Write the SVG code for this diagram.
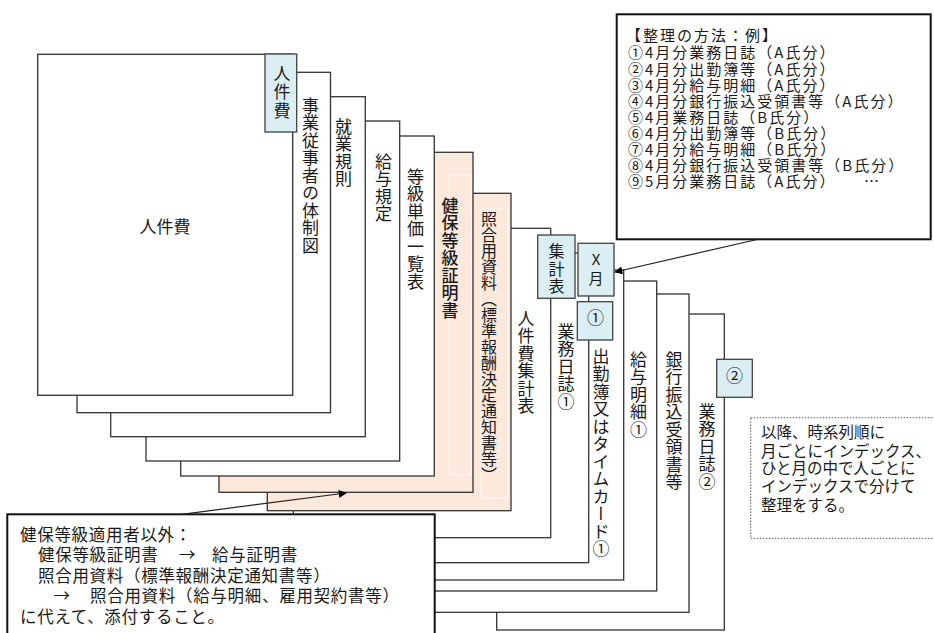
<svg xmlns="http://www.w3.org/2000/svg" width="934" height="633" viewBox="0 0 934 633">
<style>
.pg{fill:#ffffff;stroke:#333333;stroke-width:1.3}
.pk{fill:#fce9dc;stroke:#333333;stroke-width:1.3}
.tab{fill:#daeef3;stroke:#404040;stroke-width:1.3}
.t{font-family:"Noto Sans CJK JP","Noto Sans",sans-serif;fill:#1a1a1a}
.v{writing-mode:vertical-rl;font-size:17px;letter-spacing:0.5px}
.h16{font-size:15px;letter-spacing:2px}
.b16{font-size:16.5px;letter-spacing:0.7px}
.r16{font-size:15.5px}
.note{fill:#ffffff;stroke:#111111;stroke-width:2}
.con{stroke:#222222;stroke-width:1.2;fill:none}
.inner{fill:none;stroke:#ffffff;stroke-width:1;opacity:0.8}
</style>
<defs>
<marker id="ah" viewBox="0 0 10 10" refX="9" refY="5" markerWidth="9" markerHeight="8" markerUnits="userSpaceOnUse" orient="auto">
<path d="M0,0 L10,5 L0,10 z" fill="#000000"/>
</marker>
</defs>
<rect x="0" y="0" width="934" height="633" fill="#ffffff"/>

<g id="page13"><rect class="pg" x="496.7" y="314" width="227.6" height="316"/>
<text class="t v" x="707" y="403">業務日誌②</text></g>
<g id="page12"><rect class="pg" x="430" y="294" width="259" height="318.3"/>
<text class="t v" x="674" y="351">銀行振込受領書等</text></g>
<g id="page11"><rect class="pg" x="400" y="281" width="256.7" height="310"/>
<text class="t v" x="638.5" y="351">給与明細①</text></g>
<g id="page10"><rect class="pg" x="368" y="270" width="255.7" height="310"/>
<text class="t v" x="601" y="348">出勤簿又はタイムカード①</text></g>
<g id="page9"><rect class="pg" x="333" y="253" width="255.7" height="309.7"/>
<text class="t v" x="566" y="323">業務日誌①</text></g>
<g id="page8"><rect class="pg" x="293.3" y="228.3" width="257.4" height="309.4"/>
<text class="t v" x="526" y="310">人件費集計表</text></g>
<g id="page7"><rect class="pk" x="267.3" y="193.3" width="243.7" height="317.4"/>
<rect class="inner" x="481" y="208" width="27" height="290"/>
<text class="t" style="writing-mode:vertical-rl;font-size:16px" x="489" y="211">照合用資料（標準報酬決定通知書等）</text></g>
<g id="page6"><rect class="pk" x="219" y="152.3" width="254" height="340"/>
<rect class="inner" x="449.3" y="175" width="22" height="300"/>
<text class="t v" x="450" y="197" style="font-weight:500">健保等級証明書</text></g>
<g id="page5"><rect class="pg" x="180.7" y="136" width="253.6" height="340"/>
<text class="t v" x="415.5" y="168">等級単価一覧表</text></g>
<g id="page4"><rect class="pg" x="146" y="121" width="253.7" height="340"/>
<text class="t v" x="383.5" y="153">給与規定</text></g>
<g id="page3"><rect class="pg" x="110.7" y="96.7" width="254.6" height="340"/>
<text class="t v" x="343.5" y="118">就業規則</text></g>
<g id="page2"><rect class="pg" x="77" y="72.3" width="253.5" height="340.4"/>
<text class="t v" x="310.5" y="97">事業従事者の体制図</text></g>
<g id="page1"><rect class="pg" x="37.7" y="54.3" width="255" height="341" style="stroke:#444444;stroke-width:1.5"/>
<text class="t" x="165" y="233" text-anchor="middle" style="font-size:17px">人件費</text></g>

<g id="tab-jinkenhi"><rect class="tab" x="265" y="54" width="31.7" height="78"/>
<text class="t" style="writing-mode:vertical-rl;font-size:17px;letter-spacing:1.3px" x="282" y="65">人件費</text></g>
<g id="tab-shukeihyo"><rect class="tab" x="537.7" y="235" width="37.3" height="63.3"/>
<text class="t" style="writing-mode:vertical-rl;font-size:16px;letter-spacing:1.5px" x="556.5" y="243">集計表</text></g>
<g id="tab-month"><rect class="tab" x="578" y="243.3" width="36" height="52.7"/>
<text class="t" text-anchor="middle" style="font-size:15px"><tspan x="596" y="265">X</tspan><tspan x="596" y="284">月</tspan></text></g>
<g id="tab-1"><rect class="tab" x="577.3" y="301.7" width="35.4" height="38.3"/>
<text class="t" x="595.5" y="324" text-anchor="middle" style="font-size:17px">①</text></g>
<g id="tab-2"><rect class="tab" x="716.7" y="359.3" width="35.6" height="38"/>
<text class="t" x="734.5" y="382" text-anchor="middle" style="font-size:17px">②</text></g>

<g id="note-method"><rect class="note" x="616.7" y="14.3" width="314" height="225"/>
<text class="t h16" x="626" y="41">【整理の方法：例】</text>
<text class="t h16" x="628" y="58">①4月分業務日誌（A氏分）</text>
<text class="t h16" x="628" y="74.5">②4月分出勤簿等（A氏分）</text>
<text class="t h16" x="628" y="90.5">③4月分給与明細（A氏分）</text>
<text class="t h16" x="628" y="106.5">④4月分銀行振込受領書等（A氏分）</text>
<text class="t h16" x="628" y="122.5">⑤4月業務日誌（B氏分）</text>
<text class="t h16" x="628" y="138.5">⑥4月分出勤簿等（B氏分）</text>
<text class="t h16" x="628" y="154.5">⑦4月分給与明細（B氏分）</text>
<text class="t h16" x="628" y="170.5">⑧4月分銀行振込受領書等（B氏分）</text>
<text class="t h16" x="628" y="186.5">⑨5月分業務日誌（A氏分）<tspan x="864">…</tspan></text>
</g>

<g id="note-exception"><rect class="note" x="7.3" y="514.3" width="427.4" height="130"/>
<text class="t b16" x="20" y="540.5">健保等級適用者以外：</text>
<text class="t b16" x="38" y="561">健保等級証明書</text>
<text class="t b16" x="187.5" y="561" text-anchor="middle">→</text>
<text class="t b16" x="212" y="561">給与証明書</text>
<text class="t b16" x="38" y="581.7">照合用資料（標準報酬決定通知書等）</text>
<text class="t b16" x="62" y="602" text-anchor="middle">→</text>
<text class="t b16" x="90" y="602">照合用資料（給与明細、雇用契約書等）</text>
<text class="t b16" x="20" y="622.7">に代えて、添付すること。</text>
</g>

<g id="note-order"><rect x="750.7" y="417.7" width="200" height="120.6" fill="#ffffff" stroke="#555555" stroke-width="1" stroke-dasharray="1.5 1.5"/>
<text class="t r16" x="761" y="438">以降、時系列順に</text>
<text class="t r16" x="761" y="456.5">月ごとにインデックス、</text>
<text class="t r16" x="761" y="474">ひと月の中で人ごとに</text>
<text class="t r16" x="761" y="492">インデックスで分けて</text>
<text class="t r16" x="761" y="511">整理をする。</text>
</g>

<g id="connectors">
<line class="con" x1="757" y1="239.5" x2="615" y2="272" marker-end="url(#ah)"/>
<line class="con" x1="181.7" y1="514.3" x2="346" y2="493" marker-end="url(#ah)"/>
</g>
</svg>
